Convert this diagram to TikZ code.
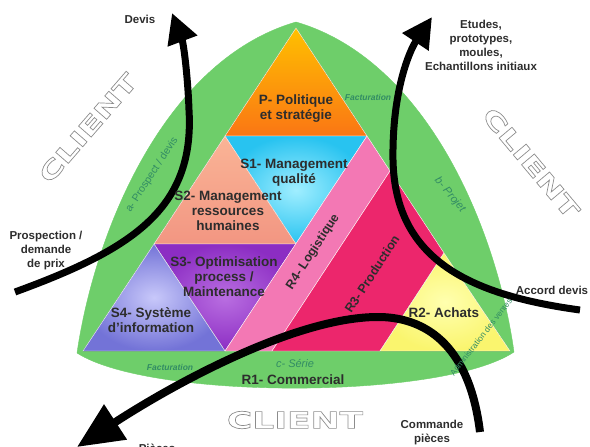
\documentclass[tikz,border=0pt]{standalone}
\usepackage{fontspec}
\setmainfont{Liberation Sans}
\newfontfamily\clientfont[FakeStretch=1.5]{DejaVu Sans}
\usetikzlibrary{arrows.meta}
\definecolor{leaf}{RGB}{110,206,106}
\definecolor{txt}{RGB}{45,45,45}
\definecolor{ink}{RGB}{50,140,100}
\definecolor{polA}{RGB}{255,192,0}
\definecolor{polB}{RGB}{250,118,20}
\definecolor{qualA}{RGB}{160,238,255}
\definecolor{qualB}{RGB}{40,195,240}
\definecolor{rhA}{RGB}{250,180,150}
\definecolor{rhB}{RGB}{242,150,130}
\definecolor{optA}{RGB}{185,110,225}
\definecolor{optB}{RGB}{140,45,195}
\definecolor{sysA}{RGB}{200,200,250}
\definecolor{sysB}{RGB}{115,115,215}
\definecolor{logi}{RGB}{243,120,180}
\definecolor{prod}{RGB}{236,38,108}
\definecolor{achA}{RGB}{255,255,175}
\definecolor{achB}{RGB}{250,245,110}
\newcommand\clientword{\special{pdf:code 1 Tr 0.7 w 0.55 G}CLIENT\special{pdf:code 0 Tr}}
\tikzset{
  lbl/.style={font=\bfseries\fontsize{13.5}{15}\selectfont, text=txt, align=center, inner sep=0pt},
  rlbl/.style={font=\bfseries\fontsize{12.5}{14}\selectfont, text=txt, inner sep=0pt},
  side/.style={font=\bfseries\fontsize{11.5}{14}\selectfont, text=txt, align=center, inner sep=0pt},
  arc/.style={font=\fontsize{10.5}{12}\selectfont, text=ink, inner sep=0pt},
  small/.style={font=\bfseries\itshape\fontsize{8.5}{10}\selectfont, text=ink, inner sep=0pt},
  client/.style={font=\clientfont\bfseries\fontsize{23}{23}\selectfont, text=white, inner sep=0pt},
  flow/.style={line width=7pt, -{Triangle[length=30pt,width=30pt]}}
}
\begin{document}
\begin{tikzpicture}[x=1pt,y=-1pt]
\useasboundingbox (0,0) rectangle (590,447);
\clip (0,0) rectangle (590,447);
\filldraw[fill=leaf,draw=leaf] (77,353) .. controls (95,230) and (165,60) .. (296,22) .. controls (427,60) and (497,230) .. (514,352) .. controls (442,400) and (150,400) .. cycle;
\filldraw[top color=polA,bottom color=polB,draw=white] (296,28) -- (367,136) -- (225,136) -- cycle;
\filldraw[inner color=qualA,outer color=qualB,draw=white] (225,136) -- (367,136) -- (296,244) -- cycle;
\filldraw[top color=rhA,bottom color=rhB,draw=white] (225,136) -- (296,244) -- (154,244) -- cycle;
\filldraw[inner color=optA,outer color=optB,draw=white] (154,244) -- (296,244) -- (225,351) -- cycle;
\filldraw[inner color=sysA,outer color=sysB,draw=white] (154,244) -- (225,351) -- (83,351) -- cycle;
\filldraw[fill=logi,draw=white] (367,136) -- (390,171) -- (272,351) -- (225,351) -- cycle;
\filldraw[fill=prod,draw=white] (390,171) -- (444,253) -- (380,351) -- (272,351) -- cycle;
\filldraw[inner color=achA,outer color=achB,draw=white] (444,253) -- (510,351) -- (380,351) -- cycle;
\node[client,rotate=49] (cl1) at (88,128) {\clientword};
\node[client,rotate=-50] (cl2) at (531,163) {\clientword};
\node[client] (cl3) at (295,420) {\clientword};
\coordinate (pros) at (15,292);
\coordinate (devtip) at (172,13);
\coordinate (acc) at (580,310);
\coordinate (etip) at (432,17);
\coordinate (cmd) at (480,432);
\coordinate (ptip) at (77,447);
\draw[flow] (pros) .. controls (130,250) and (195,210) .. (189,110) .. controls (188,80) and (184,45) .. (devtip);
\draw[flow] (acc) .. controls (470,295) and (395,260) .. (393,160) .. controls (392,90) and (410,50) .. (etip);
\draw[flow,line width=8pt,-{Triangle[length=46pt,width=40pt]}] (cmd) .. controls (470,350) and (430,318) .. (380,317) .. controls (300,316) and (180,380) .. (ptip);
\node[lbl] (pol) at (296,109) {P- Politique\\et stratégie};
\node[lbl] (s1) at (294,173) {S1- Management\\qualité};
\node[lbl] (s2) at (228,211) {S2- Management\\ressources\\humaines};
\node[lbl] (s3) at (224,277) {S3- Optimisation\\process /\\Maintenance};
\node[lbl] (s4) at (151,320) {S4- Système\\d'information};
\node[rlbl,rotate=57] (r4) at (313,252) {R4- Logistique};
\node[rlbl,rotate=57] (r3) at (372,274) {R3- Production};
\node[lbl] (r2) at (444,313) {R2- Achats};
\node[lbl] (r1) at (293,380) {R1- Commercial};
\node[arc,font=\itshape\fontsize{11}{12}\selectfont] (serie) at (295,364) {c- Série};
\node[arc,rotate=57] (pa) at (152,175) {a- Prospect / devis};
\node[arc,font=\itshape\fontsize{11}{12}\selectfont,rotate=-50] (pb) at (450,195) {b- Projet};
\node[small] (fac1) at (368,97) {Facturation};
\node[small] (fac2) at (170,367) {Facturation};
\node[arc,font=\fontsize{8.3}{10}\selectfont,rotate=52] (adm) at (481,337) {Administration des ventes};
\node[side] (devis) at (140,19) {Devis};
\node[side] (etudes) at (481,45) {Etudes,\\prototypes,\\moules,\\Echantillons initiaux};
\node[side] (prosp) at (46,251) {Prospection /\\demande\\de prix};
\node[side] (accord) at (552,290) {Accord devis};
\node[side] (comm) at (432,433) {Commande\\pièces};
\node[side,anchor=base] (pieces) at (157,452) {Pièces};
\end{tikzpicture}
\end{document}
